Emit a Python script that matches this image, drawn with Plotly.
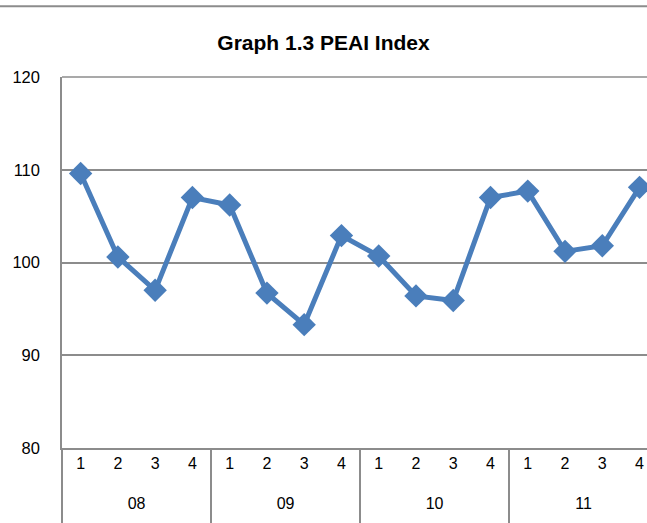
import plotly.graph_objects as go

years = ["<br>08<br> "] * 4 + ["<br>09<br> "] * 4 + ["<br>10<br> "] * 4 + ["<br>11<br> "] * 4
quarters = ["1", "2", "3", "4"] * 4
peai = [109.6, 100.6, 97.0, 107.0, 106.2, 96.7, 93.3, 102.9,
        100.7, 96.4, 95.9, 107.0, 107.7, 101.2, 101.8, 108.1]

line_color = "#4A7EBB"
grid_color = "#8C8C8C"

fig = go.Figure()
fig.add_trace(go.Scatter(
    x=[years, quarters],
    y=peai,
    mode="lines+markers",
    line=dict(color=line_color, width=5),
    marker=dict(symbol="diamond", size=18, color=line_color),
    showlegend=False,
    cliponaxis=False,
))

fig.update_layout(
    width=647, height=523,
    margin=dict(l=62, r=0, t=77, b=75),
    paper_bgcolor="white",
    plot_bgcolor="white",
    font=dict(family="Liberation Sans, Arial, sans-serif", size=16, color="black"),
    title=dict(text="<b>Graph 1.3 PEAI Index</b>", x=0.5, xanchor="center",
               y=0.918, yanchor="middle", font=dict(size=21)),
    xaxis=dict(
        type="multicategory",
        range=[-0.5, 15.2],
        automargin=False,
        showgrid=False,
        showline=True, linecolor=grid_color, linewidth=1.5,
        ticks="",
        showdividers=True, dividercolor=grid_color, dividerwidth=1.5,
        tickfont=dict(size=16),
    ),
    yaxis=dict(
        range=[80, 120],
        dtick=10,
        automargin=False,
        showgrid=True, gridcolor=grid_color, gridwidth=1.5,
        showline=True, linecolor=grid_color, linewidth=1.5,
        zeroline=False,
        ticks="outside", ticklen=17, tickcolor="rgba(0,0,0,0)",
        tickfont=dict(size=16.5),
    ),
    shapes=[
        # outer frame edge at the top of the picture
        dict(type="line", xref="paper", yref="paper",
             x0=-0.2, x1=1.0, y0=1.191, y1=1.191,
             line=dict(color=grid_color, width=2)),
        # top border of the plot area
        dict(type="line", xref="paper", yref="paper",
             x0=0, x1=1.0, y0=1, y1=1,
             line=dict(color=grid_color, width=1.5)),
    ],
)

fig.write_html("out.html", config={"displayModeBar": False},
               post_script="document.body.style.margin='0';")
